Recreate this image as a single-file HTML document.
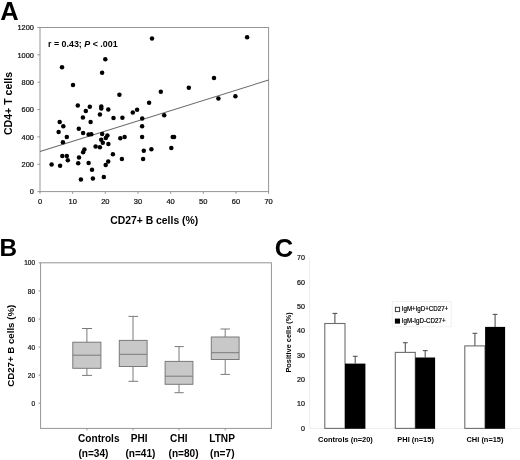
<!DOCTYPE html>
<html><head><meta charset="utf-8"><style>
html,body{margin:0;padding:0;background:#fff;width:520px;height:460px;overflow:hidden}
svg{display:block;will-change:transform;filter:blur(0.3px)}
text{font-family:"Liberation Sans",sans-serif}
</style></head><body>
<svg width="520" height="460" viewBox="0 0 520 460">
<rect width="520" height="460" fill="#fff"/>

<text x="0.3" y="19.8" font-size="25.5" font-weight="bold" fill="#000">A</text>
<rect x="40.0" y="27.5" width="228.60" height="164.10" fill="none" stroke="#959595" stroke-width="1"/>
<line x1="37.40" y1="191.60" x2="40.0" y2="191.60" stroke="#959595" stroke-width="1"/>
<text x="33.9" y="194.25" font-size="7.4" fill="#111" stroke="#111" stroke-width="0.22" text-anchor="end">0</text>
<line x1="37.40" y1="164.25" x2="40.0" y2="164.25" stroke="#959595" stroke-width="1"/>
<text x="33.9" y="166.90" font-size="7.4" fill="#111" stroke="#111" stroke-width="0.22" text-anchor="end">200</text>
<line x1="37.40" y1="136.90" x2="40.0" y2="136.90" stroke="#959595" stroke-width="1"/>
<text x="33.9" y="139.55" font-size="7.4" fill="#111" stroke="#111" stroke-width="0.22" text-anchor="end">400</text>
<line x1="37.40" y1="109.55" x2="40.0" y2="109.55" stroke="#959595" stroke-width="1"/>
<text x="33.9" y="112.20" font-size="7.4" fill="#111" stroke="#111" stroke-width="0.22" text-anchor="end">600</text>
<line x1="37.40" y1="82.20" x2="40.0" y2="82.20" stroke="#959595" stroke-width="1"/>
<text x="33.9" y="84.85" font-size="7.4" fill="#111" stroke="#111" stroke-width="0.22" text-anchor="end">800</text>
<line x1="37.40" y1="54.85" x2="40.0" y2="54.85" stroke="#959595" stroke-width="1"/>
<text x="33.9" y="57.50" font-size="7.4" fill="#111" stroke="#111" stroke-width="0.22" text-anchor="end">1000</text>
<line x1="37.40" y1="27.50" x2="40.0" y2="27.50" stroke="#959595" stroke-width="1"/>
<text x="33.9" y="30.15" font-size="7.4" fill="#111" stroke="#111" stroke-width="0.22" text-anchor="end">1200</text>
<line x1="40.00" y1="191.6" x2="40.00" y2="193.80" stroke="#959595" stroke-width="1"/>
<text x="40.00" y="204.3" font-size="7.5" fill="#111" stroke="#111" stroke-width="0.22" text-anchor="middle">0</text>
<line x1="72.66" y1="191.6" x2="72.66" y2="193.80" stroke="#959595" stroke-width="1"/>
<text x="72.66" y="204.3" font-size="7.5" fill="#111" stroke="#111" stroke-width="0.22" text-anchor="middle">10</text>
<line x1="105.31" y1="191.6" x2="105.31" y2="193.80" stroke="#959595" stroke-width="1"/>
<text x="105.31" y="204.3" font-size="7.5" fill="#111" stroke="#111" stroke-width="0.22" text-anchor="middle">20</text>
<line x1="137.97" y1="191.6" x2="137.97" y2="193.80" stroke="#959595" stroke-width="1"/>
<text x="137.97" y="204.3" font-size="7.5" fill="#111" stroke="#111" stroke-width="0.22" text-anchor="middle">30</text>
<line x1="170.63" y1="191.6" x2="170.63" y2="193.80" stroke="#959595" stroke-width="1"/>
<text x="170.63" y="204.3" font-size="7.5" fill="#111" stroke="#111" stroke-width="0.22" text-anchor="middle">40</text>
<line x1="203.29" y1="191.6" x2="203.29" y2="193.80" stroke="#959595" stroke-width="1"/>
<text x="203.29" y="204.3" font-size="7.5" fill="#111" stroke="#111" stroke-width="0.22" text-anchor="middle">50</text>
<line x1="235.94" y1="191.6" x2="235.94" y2="193.80" stroke="#959595" stroke-width="1"/>
<text x="235.94" y="204.3" font-size="7.5" fill="#111" stroke="#111" stroke-width="0.22" text-anchor="middle">60</text>
<line x1="268.60" y1="191.6" x2="268.60" y2="193.80" stroke="#959595" stroke-width="1"/>
<text x="268.60" y="204.3" font-size="7.5" fill="#111" stroke="#111" stroke-width="0.22" text-anchor="middle">70</text>
<line x1="40.00" y1="151.5" x2="268.60" y2="80" stroke="#6a6a6a" stroke-width="1.05"/>
<circle cx="62.00" cy="67.32" r="2.25" fill="#000"/>
<circle cx="73.00" cy="84.92" r="2.25" fill="#000"/>
<circle cx="152.00" cy="38.52" r="2.25" fill="#000"/>
<circle cx="105.30" cy="59.32" r="2.25" fill="#000"/>
<circle cx="102.10" cy="72.72" r="2.25" fill="#000"/>
<circle cx="214.00" cy="77.92" r="2.25" fill="#000"/>
<circle cx="247.10" cy="37.22" r="2.25" fill="#000"/>
<circle cx="77.80" cy="105.52" r="2.25" fill="#000"/>
<circle cx="89.80" cy="106.82" r="2.25" fill="#000"/>
<circle cx="85.80" cy="111.02" r="2.25" fill="#000"/>
<circle cx="82.90" cy="117.62" r="2.25" fill="#000"/>
<circle cx="101.30" cy="106.42" r="2.25" fill="#000"/>
<circle cx="101.30" cy="108.62" r="2.25" fill="#000"/>
<circle cx="99.90" cy="114.62" r="2.25" fill="#000"/>
<circle cx="59.70" cy="122.02" r="2.25" fill="#000"/>
<circle cx="90.60" cy="122.02" r="2.25" fill="#000"/>
<circle cx="63.30" cy="126.22" r="2.25" fill="#000"/>
<circle cx="78.80" cy="128.82" r="2.25" fill="#000"/>
<circle cx="58.60" cy="132.12" r="2.25" fill="#000"/>
<circle cx="83.10" cy="133.02" r="2.25" fill="#000"/>
<circle cx="88.60" cy="134.42" r="2.25" fill="#000"/>
<circle cx="91.30" cy="134.32" r="2.25" fill="#000"/>
<circle cx="66.80" cy="137.02" r="2.25" fill="#000"/>
<circle cx="62.90" cy="142.32" r="2.25" fill="#000"/>
<circle cx="119.40" cy="94.72" r="2.25" fill="#000"/>
<circle cx="160.80" cy="91.82" r="2.25" fill="#000"/>
<circle cx="149.10" cy="102.82" r="2.25" fill="#000"/>
<circle cx="108.30" cy="109.62" r="2.25" fill="#000"/>
<circle cx="137.10" cy="109.72" r="2.25" fill="#000"/>
<circle cx="132.80" cy="112.52" r="2.25" fill="#000"/>
<circle cx="113.50" cy="118.12" r="2.25" fill="#000"/>
<circle cx="122.40" cy="117.82" r="2.25" fill="#000"/>
<circle cx="142.20" cy="118.42" r="2.25" fill="#000"/>
<circle cx="142.10" cy="126.22" r="2.25" fill="#000"/>
<circle cx="102.20" cy="134.12" r="2.25" fill="#000"/>
<circle cx="107.40" cy="135.52" r="2.25" fill="#000"/>
<circle cx="105.80" cy="138.12" r="2.25" fill="#000"/>
<circle cx="101.20" cy="139.82" r="2.25" fill="#000"/>
<circle cx="102.80" cy="142.72" r="2.25" fill="#000"/>
<circle cx="108.40" cy="144.02" r="2.25" fill="#000"/>
<circle cx="120.30" cy="138.32" r="2.25" fill="#000"/>
<circle cx="124.60" cy="137.02" r="2.25" fill="#000"/>
<circle cx="142.10" cy="137.02" r="2.25" fill="#000"/>
<circle cx="95.60" cy="146.62" r="2.25" fill="#000"/>
<circle cx="99.90" cy="147.32" r="2.25" fill="#000"/>
<circle cx="112.90" cy="154.32" r="2.25" fill="#000"/>
<circle cx="188.80" cy="87.72" r="2.25" fill="#000"/>
<circle cx="218.40" cy="98.52" r="2.25" fill="#000"/>
<circle cx="164.20" cy="115.22" r="2.25" fill="#000"/>
<circle cx="172.70" cy="137.02" r="2.25" fill="#000"/>
<circle cx="174.10" cy="137.02" r="2.25" fill="#000"/>
<circle cx="235.40" cy="96.22" r="2.25" fill="#000"/>
<circle cx="84.40" cy="149.52" r="2.25" fill="#000"/>
<circle cx="83.10" cy="152.22" r="2.25" fill="#000"/>
<circle cx="62.30" cy="156.12" r="2.25" fill="#000"/>
<circle cx="66.80" cy="156.12" r="2.25" fill="#000"/>
<circle cx="67.80" cy="160.32" r="2.25" fill="#000"/>
<circle cx="79.00" cy="157.42" r="2.25" fill="#000"/>
<circle cx="51.60" cy="164.62" r="2.25" fill="#000"/>
<circle cx="60.10" cy="165.82" r="2.25" fill="#000"/>
<circle cx="78.20" cy="163.22" r="2.25" fill="#000"/>
<circle cx="88.60" cy="162.92" r="2.25" fill="#000"/>
<circle cx="92.00" cy="169.82" r="2.25" fill="#000"/>
<circle cx="80.90" cy="179.62" r="2.25" fill="#000"/>
<circle cx="92.90" cy="178.62" r="2.25" fill="#000"/>
<circle cx="121.90" cy="159.02" r="2.25" fill="#000"/>
<circle cx="108.20" cy="161.62" r="2.25" fill="#000"/>
<circle cx="105.70" cy="165.12" r="2.25" fill="#000"/>
<circle cx="103.80" cy="176.92" r="2.25" fill="#000"/>
<circle cx="143.80" cy="150.82" r="2.25" fill="#000"/>
<circle cx="151.40" cy="149.22" r="2.25" fill="#000"/>
<circle cx="143.10" cy="159.02" r="2.25" fill="#000"/>
<circle cx="171.30" cy="148.12" r="2.25" fill="#000"/>
<text x="48.0" y="46.9" font-size="9.4" font-weight="bold" fill="#000" textLength="69.6" lengthAdjust="spacingAndGlyphs">r = 0.43; <tspan font-style="italic">P</tspan> &lt; .001</text>
<text transform="translate(12.2,103.5) rotate(-90)" font-size="10.55" font-weight="bold" fill="#000" text-anchor="middle">CD4+ T cells</text>
<text x="154.2" y="223.5" font-size="10.4" font-weight="bold" fill="#000" text-anchor="middle">CD27+ B cells (%)</text>
<text x="-0.5" y="256.1" font-size="24.3" font-weight="bold" fill="#000">B</text>
<rect x="40.6" y="262.8" width="230.80" height="165.60" fill="none" stroke="#959595" stroke-width="1"/>
<line x1="38.60" y1="403.20" x2="40.6" y2="403.20" stroke="#959595" stroke-width="1"/>
<text x="35.1" y="405.75" font-size="6.5" fill="#111" stroke="#111" stroke-width="0.22" text-anchor="end">0</text>
<line x1="38.60" y1="375.14" x2="40.6" y2="375.14" stroke="#959595" stroke-width="1"/>
<text x="35.1" y="377.69" font-size="6.5" fill="#111" stroke="#111" stroke-width="0.22" text-anchor="end">20</text>
<line x1="38.60" y1="347.08" x2="40.6" y2="347.08" stroke="#959595" stroke-width="1"/>
<text x="35.1" y="349.63" font-size="6.5" fill="#111" stroke="#111" stroke-width="0.22" text-anchor="end">40</text>
<line x1="38.60" y1="319.02" x2="40.6" y2="319.02" stroke="#959595" stroke-width="1"/>
<text x="35.1" y="321.57" font-size="6.5" fill="#111" stroke="#111" stroke-width="0.22" text-anchor="end">60</text>
<line x1="38.60" y1="290.96" x2="40.6" y2="290.96" stroke="#959595" stroke-width="1"/>
<text x="35.1" y="293.51" font-size="6.5" fill="#111" stroke="#111" stroke-width="0.22" text-anchor="end">80</text>
<line x1="38.60" y1="262.90" x2="40.6" y2="262.90" stroke="#959595" stroke-width="1"/>
<text x="35.1" y="265.45" font-size="6.5" fill="#111" stroke="#111" stroke-width="0.22" text-anchor="end">100</text>
<line x1="86.9" y1="328.5" x2="86.9" y2="375.4" stroke="#7a7a7a" stroke-width="1"/>
<line x1="82.0" y1="328.5" x2="92.1" y2="328.5" stroke="#7a7a7a" stroke-width="1"/>
<line x1="82.0" y1="375.4" x2="92.1" y2="375.4" stroke="#7a7a7a" stroke-width="1"/>
<rect x="72.8" y="342.2" width="28.10" height="26.10" fill="#c8c8c8" stroke="#7a7a7a" stroke-width="1"/>
<line x1="72.8" y1="355.2" x2="100.9" y2="355.2" stroke="#7a7a7a" stroke-width="1"/>
<line x1="86.9" y1="428.4" x2="86.9" y2="430.40" stroke="#959595" stroke-width="1"/>
<line x1="133.0" y1="316.4" x2="133.0" y2="381.3" stroke="#7a7a7a" stroke-width="1"/>
<line x1="128.5" y1="316.4" x2="138.1" y2="316.4" stroke="#7a7a7a" stroke-width="1"/>
<line x1="128.5" y1="381.3" x2="138.1" y2="381.3" stroke="#7a7a7a" stroke-width="1"/>
<rect x="119.3" y="340.4" width="27.80" height="26.10" fill="#c8c8c8" stroke="#7a7a7a" stroke-width="1"/>
<line x1="119.3" y1="354.3" x2="147.1" y2="354.3" stroke="#7a7a7a" stroke-width="1"/>
<line x1="133.0" y1="428.4" x2="133.0" y2="430.40" stroke="#959595" stroke-width="1"/>
<line x1="179.0" y1="346.6" x2="179.0" y2="392.7" stroke="#7a7a7a" stroke-width="1"/>
<line x1="174.5" y1="346.6" x2="183.7" y2="346.6" stroke="#7a7a7a" stroke-width="1"/>
<line x1="174.5" y1="392.7" x2="183.7" y2="392.7" stroke="#7a7a7a" stroke-width="1"/>
<rect x="165.1" y="361.4" width="27.80" height="22.90" fill="#c8c8c8" stroke="#7a7a7a" stroke-width="1"/>
<line x1="165.1" y1="376.2" x2="192.9" y2="376.2" stroke="#7a7a7a" stroke-width="1"/>
<line x1="179.0" y1="428.4" x2="179.0" y2="430.40" stroke="#959595" stroke-width="1"/>
<line x1="225.2" y1="329.0" x2="225.2" y2="374.4" stroke="#7a7a7a" stroke-width="1"/>
<line x1="220.5" y1="329.0" x2="229.9" y2="329.0" stroke="#7a7a7a" stroke-width="1"/>
<line x1="220.5" y1="374.4" x2="229.9" y2="374.4" stroke="#7a7a7a" stroke-width="1"/>
<rect x="211.3" y="337.0" width="27.80" height="22.50" fill="#c8c8c8" stroke="#7a7a7a" stroke-width="1"/>
<line x1="211.3" y1="352.7" x2="239.1" y2="352.7" stroke="#7a7a7a" stroke-width="1"/>
<line x1="225.2" y1="428.4" x2="225.2" y2="430.40" stroke="#959595" stroke-width="1"/>
<text x="98.8" y="441.6" font-size="10.1" font-weight="bold" fill="#000" text-anchor="middle">Controls</text>
<text x="93.4" y="456.5" font-size="10.1" font-weight="bold" fill="#000" text-anchor="middle">(n=34)</text>
<text x="139.2" y="441.6" font-size="10.1" font-weight="bold" fill="#000" text-anchor="middle">PHI</text>
<text x="140.4" y="456.5" font-size="10.1" font-weight="bold" fill="#000" text-anchor="middle">(n=41)</text>
<text x="178.8" y="441.6" font-size="10.1" font-weight="bold" fill="#000" text-anchor="middle">CHI</text>
<text x="183.6" y="456.5" font-size="10.1" font-weight="bold" fill="#000" text-anchor="middle">(n=80)</text>
<text x="222.1" y="441.6" font-size="10.1" font-weight="bold" fill="#000" text-anchor="middle">LTNP</text>
<text x="222.3" y="456.5" font-size="10.1" font-weight="bold" fill="#000" text-anchor="middle">(n=7)</text>
<text transform="translate(14.1,345.8) rotate(-90)" font-size="9.7" font-weight="bold" fill="#000" text-anchor="middle">CD27+ B cells (%)</text>
<text x="274.8" y="256.9" font-size="25.5" font-weight="bold" fill="#000">C</text>
<line x1="309.7" y1="257.78" x2="309.7" y2="428.4" stroke="#eeeeee" stroke-width="1"/>
<line x1="309.7" y1="428.4" x2="520" y2="428.4" stroke="#eeeeee" stroke-width="1"/>
<text transform="translate(304.9,430.80) scale(1,1.05)" font-size="7.1" fill="#111" stroke="#111" stroke-width="0.22" text-anchor="end">0</text>
<text transform="translate(304.9,406.44) scale(1,1.05)" font-size="7.1" fill="#111" stroke="#111" stroke-width="0.22" text-anchor="end">10</text>
<text transform="translate(304.9,382.08) scale(1,1.05)" font-size="7.1" fill="#111" stroke="#111" stroke-width="0.22" text-anchor="end">20</text>
<text transform="translate(304.9,357.72) scale(1,1.05)" font-size="7.1" fill="#111" stroke="#111" stroke-width="0.22" text-anchor="end">30</text>
<text transform="translate(304.9,333.36) scale(1,1.05)" font-size="7.1" fill="#111" stroke="#111" stroke-width="0.22" text-anchor="end">40</text>
<text transform="translate(304.9,309.00) scale(1,1.05)" font-size="7.1" fill="#111" stroke="#111" stroke-width="0.22" text-anchor="end">50</text>
<text transform="translate(304.9,284.64) scale(1,1.05)" font-size="7.1" fill="#111" stroke="#111" stroke-width="0.22" text-anchor="end">60</text>
<text transform="translate(304.9,260.28) scale(1,1.05)" font-size="7.1" fill="#111" stroke="#111" stroke-width="0.22" text-anchor="end">70</text>
<line x1="334.90" y1="313.4" x2="334.90" y2="323.5" stroke="#555" stroke-width="1.1"/>
<line x1="332.50" y1="313.4" x2="337.30" y2="313.4" stroke="#555" stroke-width="1.1"/>
<rect x="324.8" y="323.5" width="20.20" height="104.90" fill="#fff" stroke="#6e6e6e" stroke-width="1.1"/>
<line x1="355.20" y1="356.3" x2="355.20" y2="363.6" stroke="#555" stroke-width="1.1"/>
<line x1="352.80" y1="356.3" x2="357.60" y2="356.3" stroke="#555" stroke-width="1.1"/>
<rect x="345.0" y="363.6" width="20.40" height="65.20" fill="#000"/>
<line x1="405.30" y1="342.7" x2="405.30" y2="352.4" stroke="#555" stroke-width="1.1"/>
<line x1="402.90" y1="342.7" x2="407.70" y2="342.7" stroke="#555" stroke-width="1.1"/>
<rect x="395.3" y="352.4" width="20.00" height="76.00" fill="#fff" stroke="#6e6e6e" stroke-width="1.1"/>
<line x1="425.20" y1="350.6" x2="425.20" y2="357.5" stroke="#555" stroke-width="1.1"/>
<line x1="422.80" y1="350.6" x2="427.60" y2="350.6" stroke="#555" stroke-width="1.1"/>
<rect x="415.3" y="357.5" width="19.80" height="71.30" fill="#000"/>
<line x1="474.90" y1="333.3" x2="474.90" y2="345.9" stroke="#555" stroke-width="1.1"/>
<line x1="472.50" y1="333.3" x2="477.30" y2="333.3" stroke="#555" stroke-width="1.1"/>
<rect x="464.8" y="345.9" width="20.20" height="82.50" fill="#fff" stroke="#6e6e6e" stroke-width="1.1"/>
<line x1="495.10" y1="314.4" x2="495.10" y2="326.9" stroke="#555" stroke-width="1.1"/>
<line x1="492.70" y1="314.4" x2="497.50" y2="314.4" stroke="#555" stroke-width="1.1"/>
<rect x="485.1" y="326.9" width="20.00" height="101.90" fill="#000"/>
<rect x="392.3" y="301.6" width="58.9" height="25.1" fill="none" stroke="#f0f0f0" stroke-width="1"/>
<rect x="395.4" y="307.3" width="4.2" height="4.3" fill="#fff" stroke="#333" stroke-width="0.95"/>
<rect x="394.9" y="318.6" width="5.1" height="5" fill="#000"/>
<text x="401.8" y="311.4" font-size="6.6" fill="#000" stroke="#000" stroke-width="0.2" textLength="46.4" lengthAdjust="spacingAndGlyphs">IgM+IgD+CD27+</text>
<text x="401.8" y="322.5" font-size="6.6" fill="#000" stroke="#000" stroke-width="0.2" textLength="43.8" lengthAdjust="spacingAndGlyphs">IgM-IgD-CD27+</text>
<text x="345.4" y="442.4" font-size="7.45" font-weight="bold" fill="#000" text-anchor="middle">Controls (n=20)</text>
<text x="415.6" y="442.4" font-size="7.45" font-weight="bold" fill="#000" text-anchor="middle">PHI (n=15)</text>
<text x="485.0" y="442.4" font-size="7.45" font-weight="bold" fill="#000" text-anchor="middle">CHI (n=15)</text>
<text transform="translate(290.9,342.4) rotate(-90)" font-size="7.4" font-weight="bold" fill="#000" text-anchor="middle">Positive cells (%)</text>
</svg>
</body></html>
